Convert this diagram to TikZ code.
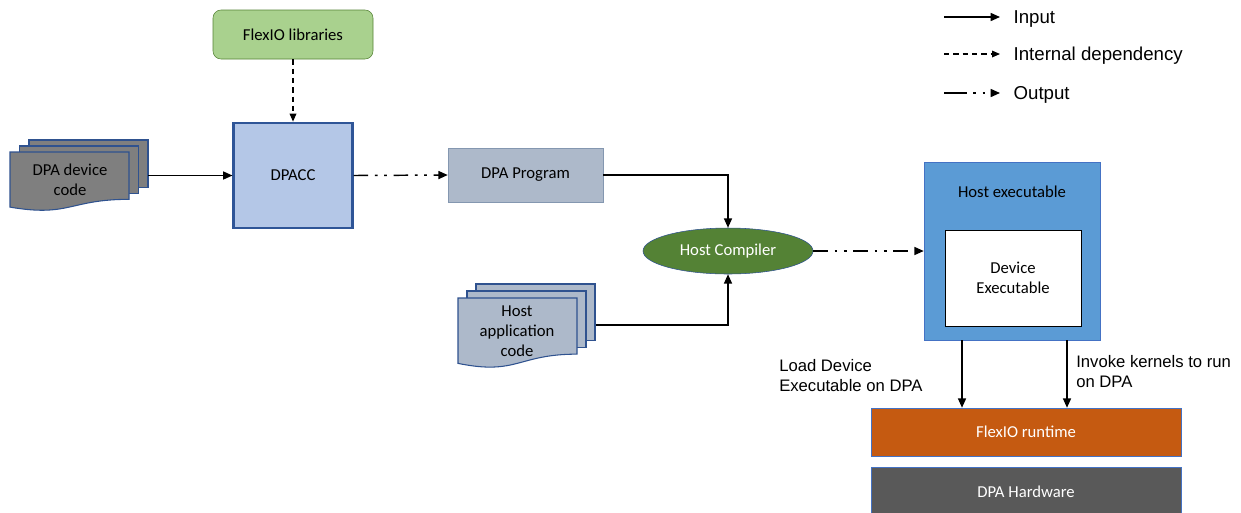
\documentclass[tikz,border=0pt]{standalone}
\usepackage{fontspec}
\setmainfont{Carlito}
\newfontfamily\arialfont{Liberation Sans}
\usetikzlibrary{arrows.meta,shapes.geometric,positioning}

\definecolor{libgreen}{HTML}{A9D18E}
\definecolor{darkgreen}{HTML}{548235}
\definecolor{lightblue}{HTML}{B4C7E7}
\definecolor{navy}{HTML}{2F5597}
\definecolor{slate}{HTML}{ADB9CA}
\definecolor{slateline}{HTML}{8497B0}
\definecolor{docline}{HTML}{2F528F}
\definecolor{midblue}{HTML}{5B9BD5}
\definecolor{edgeblue}{HTML}{4472C4}
\definecolor{rust}{HTML}{C55A11}
\definecolor{coal}{HTML}{595959}
\definecolor{sheetgray}{HTML}{7F7F7F}

\tikzset{
  box/.style={draw, rectangle, align=center, inner sep=2pt, font=\fontsize{12.5}{15}\selectfont},
  input/.style={-{Triangle[length=7pt,width=6pt]}, line width=1.1pt},
  dep/.style={-{Triangle[length=6pt,width=5pt]}, line width=0.9pt, dash pattern=on 4pt off 3pt},
  outp/.style={-{Triangle[length=7pt,width=6pt]}, line width=1.1pt,
    dash pattern=on 11pt off 5pt on 2pt off 5pt on 2pt off 5pt},
  legtext/.style={font=\arialfont\fontsize{14}{17}\selectfont, inner sep=0pt},
  lbltext/.style={font=\arialfont\fontsize{12.5}{15}\selectfont, align=left, inner sep=0pt},
}

% front sheet of a document stack: x, y, width, height, style
\newcommand{\frontsheet}[5]{%
  \draw[#5] (#1,#2) -- ({#1+#3},#2) -- ({#1+#3},{#2+0.802*#4})
    .. controls ({#1+0.5*#3},{#2+0.802*#4}) and ({#1+0.5*#3},{#2+1.107*#4}) .. (#1,{#2+0.934*#4}) -- cycle;
}

\begin{document}
\begin{tikzpicture}[x=0.75pt, y=-0.75pt]
  \useasboundingbox (0,0) rectangle (1241,512);

  % document stacks
  \foreach \k in {2,1} {
    \draw[fill=sheetgray, draw=docline, line width=0.8pt] ({10+9.5*\k},{152-6*\k}) rectangle ++(119,{0.802*59});
  }
  \frontsheet{10}{152}{119}{59}{fill=sheetgray, draw=docline, line width=0.8pt}
  \node[align=center, font=\fontsize{12.5}{15}\selectfont] (devcode) at (70,180) {DPA device\\code};
  \coordinate (devcode-r) at (148,175.5);

  \foreach \k in {2,1} {
    \draw[fill=slate, draw=docline, line width=0.8pt] ({458+9*\k},{298-7*\k}) rectangle ++(119,{0.802*70});
  }
  \frontsheet{458}{298}{119}{70}{fill=slate, draw=docline, line width=0.8pt}
  \node[align=center, font=\fontsize{12.5}{15}\selectfont] (hostapp) at (517,331) {Host\\application\\code};
  \coordinate (hostapp-r) at (596,325);

  % main blocks
  \node[box, fill=libgreen, draw=darkgreen, rounded corners=6pt, minimum width=120pt, minimum height=36.75pt] (flexlib) at (293,34.5) {FlexIO libraries};
  \node[box, fill=lightblue, draw=navy, line width=1.8pt, minimum width=89pt, minimum height=79pt] (dpacc) at (293,175.5) {DPACC};
  \node[box, fill=slate, draw=slateline, minimum width=116.25pt, minimum height=40.5pt] (dpaprog) at (525.5,175) {DPA Program};
  \node[ellipse, draw=docline, fill=darkgreen, text=white, inner sep=0pt, font=\fontsize{12.5}{15}\selectfont, minimum width=127.5pt, minimum height=34.5pt] (hostcomp) at (728,251) {Host Compiler};
  \node[box, fill=midblue, draw=edgeblue, minimum width=132pt, minimum height=133.5pt] (hostexe) at (1012,251) {};
  \node[font=\fontsize{12.5}{15}\selectfont] (hostexe-title) at (1012,192) {Host executable};
  \node[box, fill=white, draw=black, minimum width=102pt, minimum height=72pt] (devexe) at (1013,278) {Device\\Executable};
  \node[box, fill=rust, draw=edgeblue, text=white, minimum width=232.5pt, minimum height=36pt] (runtime) at (1026,432) {FlexIO runtime};
  \node[box, fill=coal, draw=edgeblue, text=white, minimum width=232.5pt, minimum height=37pt] (hardware) at (1026,491.5) {DPA Hardware};

  % connectors
  \draw[dep] (flexlib) -- (dpacc);
  \draw[input] (devcode-r) -- (dpacc.west);
  \draw[outp] (dpacc.east) -- (dpaprog.west);
  \draw[input] (dpaprog.east) -| (hostcomp.north);
  \draw[input] (hostapp-r) -| (hostcomp.south);
  \draw[outp] (hostcomp.east) -- (hostexe.west);
  \draw[input] ([xshift=-37.5pt]hostexe.south) -- ([xshift=-37.5pt]hostexe.south |- runtime.north);
  \draw[input] ([xshift=41.25pt]hostexe.south) -- ([xshift=41.25pt]hostexe.south |- runtime.north);

  \node[lbltext, anchor=north west] (loadlbl) at (779,359) {Load Device\\Executable on DPA};
  \node[lbltext, anchor=north west] (invokelbl) at (1076,355) {Invoke kernels to run\\on DPA};

  % legend
  \coordinate (in-a) at (944,17);
  \coordinate (in-b) at (1000,17);
  \coordinate (dep-a) at (944,54);
  \coordinate (dep-b) at (1000,54);
  \coordinate (out-a) at (944,93);
  \coordinate (out-b) at (1000,93);
  \draw[input] (in-a) -- (in-b);
  \draw[dep] (dep-a) -- (dep-b);
  \draw[outp, dash pattern=on 17pt off 5pt on 2pt off 5pt on 2pt off 5pt] (out-a) -- (out-b);
  \node[legtext, right=10pt of in-b, yshift=-1.5pt] (in-txt) {Input};
  \node[legtext, right=10pt of dep-b, yshift=-1.5pt] (dep-txt) {Internal dependency};
  \node[legtext, right=10pt of out-b, yshift=-1.5pt] (out-txt) {Output};
\end{tikzpicture}
\end{document}
